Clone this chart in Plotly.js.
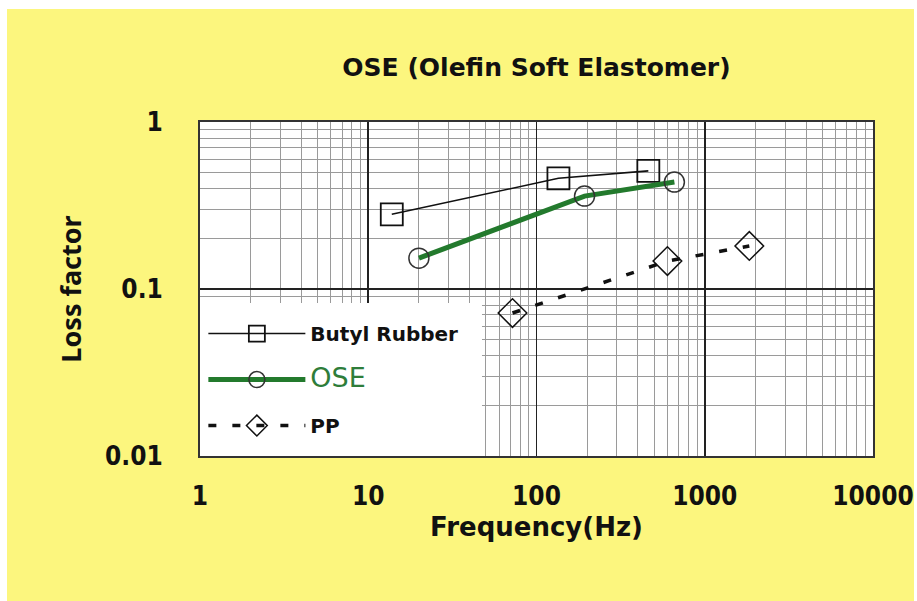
<!DOCTYPE html>
<html>
<head>
<meta charset="utf-8">
<script src="https://cdn.plot.ly/plotly-3.0.1.min.js"></script>
<style>
  html, body { margin: 0; padding: 0; background: #ffffff; width: 917px; height: 601px; overflow: hidden; }
  #chart { position: absolute; left: 7px; top: 9px; width: 907px; height: 592px; }
</style>
</head>
<body>
<div id="chart"></div>
<script>
// ---- data ----
const butylFreq = [13.8, 135, 462];
const butylLoss = [0.28, 0.46, 0.51];

const oseFreq = [20, 193, 660];
const oseLoss = [0.153, 0.36, 0.437];

const ppFreq = [72, 600, 1840];
const ppLoss = [0.0718, 0.147, 0.181];

const xTickVals = [1, 10, 100, 1000, 10000];
const xTickText = ['1', '10', '100', '1000', '10000'];
const yTickVals = [0.01, 0.1, 1];
const yTickText = ['0.01', '0.1', '1'];

const seriesNames = ['Butyl Rubber', 'OSE', 'PP'];

// ---- styles ----
const tickFont = { family: '"Liberation Sans Narrow", "DejaVu Sans Condensed", sans-serif', size: 26, weight: 'bold', color: '#111' };
const green = '#237a2d';

const traces = [
  {
    x: butylFreq, y: butylLoss, name: seriesNames[0], legendgroup: 'a',
    mode: 'lines+markers', type: 'scatter',
    line: { color: '#111', width: 1.6 },
    marker: { symbol: 'square-open', size: 22, color: '#111', line: { width: 1.8, color: '#111' } }
  },
  {
    x: oseFreq, y: oseLoss, name: '<span style="font-size:27px;font-weight:normal;color:#2e7d3a">' + seriesNames[1] + '</span>', legendgroup: 'b',
    mode: 'lines+markers', type: 'scatter',
    line: { color: green, width: 5 },
    marker: { symbol: 'circle-open', size: 20, color: '#333', line: { width: 1.5, color: '#333' } }
  },
  {
    x: ppFreq, y: ppLoss, name: seriesNames[2], legendgroup: 'c',
    mode: 'lines+markers', type: 'scatter',
    line: { color: '#111', width: 3.5, dash: '8px,16px' },
    marker: { symbol: 'diamond-open', size: 22, color: '#111', line: { width: 1.5, color: '#111' } }
  }
];

const layout = {
  width: 907, height: 592,
  paper_bgcolor: '#fcf67e',
  plot_bgcolor: '#ffffff',
  margin: { l: 193, r: 41, t: 113, b: 145 },
  showlegend: true,
  title: {
    text: 'OSE (Olefin Soft Elastomer)',
    font: { family: '"DejaVu Sans", sans-serif', size: 25, weight: 'bold', color: '#111' },
    x: 0.5, xref: 'paper', xanchor: 'center',
    y: 1 - 58 / 592, yref: 'container', yanchor: 'middle'
  },
  xaxis: {
    type: 'log', range: [0, 4],
    tickvals: xTickVals, ticktext: xTickText,
    tickfont: tickFont, ticks: '', ticklabelstandoff: 16,
    showgrid: true, gridcolor: '#222', gridwidth: 1.6,
    minor: { showgrid: true, gridcolor: '#9a9a9a', gridwidth: 1, dtick: 'D1', ticks: '' },
    showline: true, mirror: true, linecolor: '#333', linewidth: 2,
    zeroline: false, fixedrange: true,
    title: { text: 'Frequency(Hz)', standoff: 8,
      font: { family: '"DejaVu Sans", sans-serif', size: 26, weight: 'bold', color: '#111' } }
  },
  yaxis: {
    type: 'log', range: [-2, 0],
    tickvals: yTickVals, ticktext: yTickText,
    tickfont: tickFont, ticks: '', ticklabelstandoff: 30,
    showgrid: true, gridcolor: '#222', gridwidth: 1.6,
    minor: { showgrid: true, gridcolor: '#9a9a9a', gridwidth: 1, dtick: 'D1', ticks: '' },
    showline: true, mirror: true, linecolor: '#333', linewidth: 2,
    zeroline: false, fixedrange: true,
    title: { text: 'Loss factor', standoff: 16,
      font: { family: '"Noto Sans", "Open Sans", sans-serif', size: 27, weight: 'bold', color: '#111' } }
  },
  legend: {
    x: 0.005, xanchor: 'left', xref: 'paper',
    y: 0.425, yanchor: 'top', yref: 'paper',
    bgcolor: 'rgba(255,255,255,0)', borderwidth: 0,
    font: { family: '"DejaVu Sans", sans-serif', size: 20, weight: 'bold', color: '#111' },
    traceorder: 'grouped', tracegroupgap: 17,
    itemwidth: 97
  },
  shapes: [
    { type: 'rect', xref: 'paper', yref: 'paper', x0: 0, x1: 0.419, y0: 0, y1: 0.458,
      fillcolor: '#ffffff', line: { width: 0 }, layer: 'above' }
  ]
};

Plotly.newPlot('chart', traces, layout, { displayModeBar: false, staticPlot: true });
</script>
</body>
</html>
